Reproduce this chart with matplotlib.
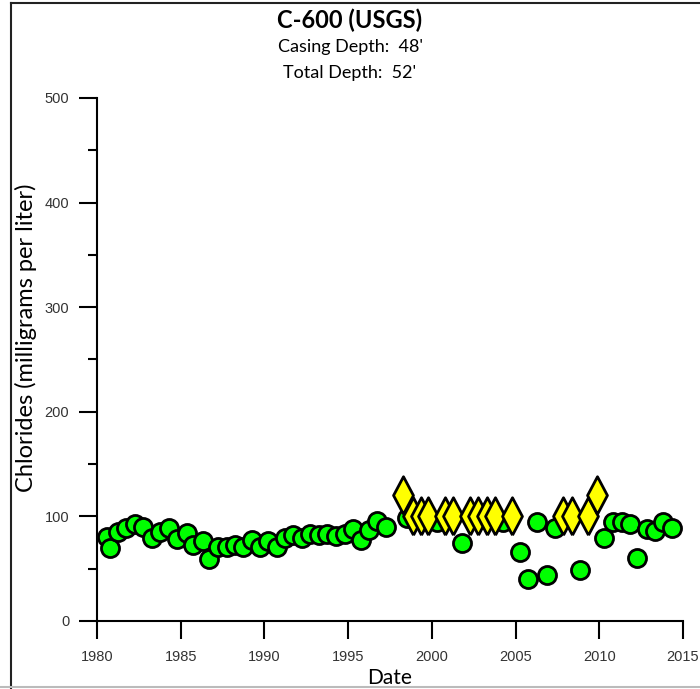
import matplotlib.pyplot as plt
from matplotlib.lines import Line2D
from matplotlib.ticker import MultipleLocator

# chloride samples (decimal year, mg/L)
circle_years = [1980.58, 1980.78, 1981.27, 1981.73, 1982.27, 1982.75, 1983.27, 1983.76,
                1984.30, 1984.78, 1985.36, 1985.73, 1986.33, 1986.69, 1987.23, 1987.75,
                1988.24, 1988.72, 1989.24, 1989.74, 1990.21, 1990.73, 1991.23, 1991.71,
                1992.23, 1992.72, 1993.26, 1993.74, 1994.28, 1994.82, 1995.29, 1995.75,
                1996.25, 1996.73, 1997.26, 1998.50, 2000.29, 2001.79, 2004.27, 2005.27,
                2005.76, 2006.27, 2006.86, 2007.36, 2008.85, 2010.29, 2010.84, 2011.34,
                2011.84, 2012.28, 2012.84, 2013.33, 2013.83, 2014.33]
circle_vals = [80, 70, 85, 89, 93, 90, 79, 85,
               89, 78, 84, 73, 76, 59, 71, 71,
               73, 71, 77, 71, 76, 71, 79, 82,
               79, 83, 82, 83, 81, 83, 88, 77,
               87, 96, 90, 98, 95, 75, 95, 66,
               40, 95, 44, 89, 49, 79, 95, 95,
               93, 60, 88, 86, 95, 89]

# second data source (diamonds)
diamond_years = [1998.30, 1998.89, 1999.34, 1999.79, 2000.79, 2001.28, 2002.28, 2002.78,
                 2003.28, 2003.78, 2004.77, 2007.86, 2008.36, 2009.35, 2009.85]
diamond_vals = [120, 100, 100, 100, 100, 100, 100, 100,
                100, 100, 100, 100, 100, 100, 120]

title = "C-600 (USGS)"
subtitle1 = "Casing Depth:  48'"
subtitle2 = "Total Depth:  52'"

# narrow diamond marker shape
thin_diamond = [(0, -1), (0.53, 0), (0, 1), (-0.53, 0), (0, -1)]

fig = plt.figure(figsize=(7, 6.89), dpi=100)
ax = fig.add_axes([97 / 700, 0.0987, (683 - 97) / 700, 0.7591])

ax.plot(circle_years, circle_vals, 'o', ms=13, mfc='#00ff00', mec='black', mew=2, zorder=3)
ax.plot(diamond_years, diamond_vals, marker=thin_diamond, ls='none', ms=27,
        mfc='#ffff00', mec='black', mew=2, zorder=4)

ax.set_xlim(1980, 2015)
ax.set_ylim(0, 500)
ax.xaxis.set_major_locator(MultipleLocator(5))
ax.yaxis.set_major_locator(MultipleLocator(100))
ax.yaxis.set_minor_locator(MultipleLocator(50))

for s in ['top', 'right']:
    ax.spines[s].set_visible(False)
for s in ['left', 'bottom']:
    ax.spines[s].set_linewidth(1.5)

ax.tick_params(axis='x', which='major', direction='out', length=13, width=1.5, pad=8,
               labelsize=10.5, labelcolor='#333333', labelfontfamily='Liberation Sans')
ax.tick_params(axis='y', which='major', direction='out', length=13, width=1.5, pad=7,
               labelsize=10.5, labelcolor='#333333', labelfontfamily='Liberation Sans')
ax.tick_params(axis='y', which='minor', direction='out', length=6.5, width=1.5)

ax.set_xlabel('Date', family='Lato', fontsize=15, labelpad=3)
ax.set_ylabel('Chlorides (milligrams per liter)', family='Lato', fontsize=17)
ax.yaxis.set_label_coords(-0.1024, 0.541)

fig.text(0.5, 0.971, title, ha='center', va='center', family='Lato', fontsize=17, fontweight='bold')
fig.text(0.5, 0.932, subtitle1, ha='center', va='center', family='Lato', fontsize=13)
fig.text(0.5, 0.894, subtitle2, ha='center', va='center', family='Lato', fontsize=13)

# frame round the figure
fig.add_artist(Line2D([11 / 700, 11 / 700], [0.0, 1 - 3 / 689], transform=fig.transFigure,
                      color='#222222', lw=1.5))
fig.add_artist(Line2D([11 / 700, 1.0], [1 - 3 / 689, 1 - 3 / 689], transform=fig.transFigure,
                      color='#222222', lw=1.5))
fig.add_artist(Line2D([0.0, 1.0], [1 - 687 / 689, 1 - 687 / 689], transform=fig.transFigure,
                      color='#bbbbbb', lw=1.5))

fig.savefig('out.png', dpi=100)
